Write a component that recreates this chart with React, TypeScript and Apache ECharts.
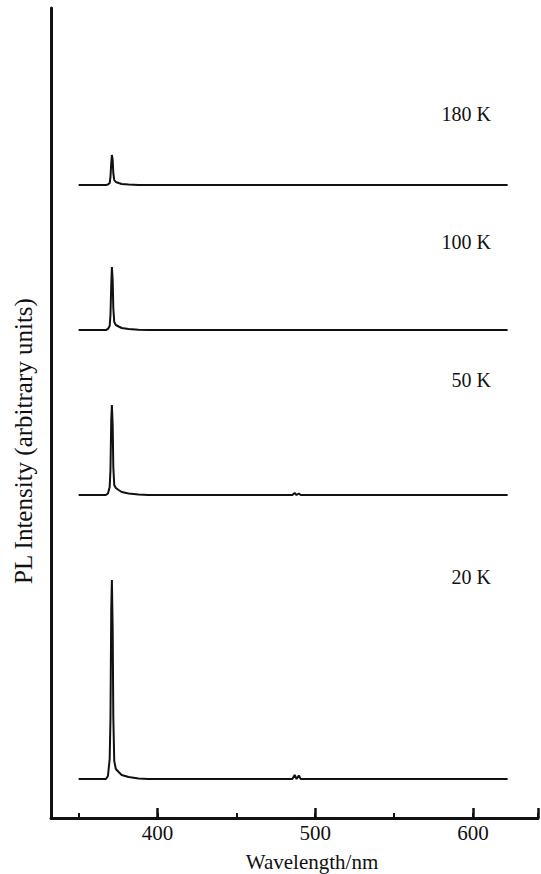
import React, { useEffect, useRef } from "react";
import * as echarts from "echarts";

// Wavelength sampling points (nm)
const wavelengths = [350, 360, 367.3, 368.6, 369.7, 370.2, 370.7, 371.1, 371.6, 372.0, 372.6, 373.6, 375.4, 377.3, 381.7, 388, 394, 450, 485.5, 487, 488.2, 489.6, 490.8, 550, 622];

// PL intensity (arbitrary units, above each curve's own baseline)
const pl20K = [0, 0, 0, 3, 20, 60, 170, 199, 150, 62, 18, 10, 7, 4, 2, 0.5, 0, 0, 0, 4, 0, 3.5, 0, 0, 0];
const pl50K = [0, 0, 0, 1.5, 8, 25, 75, 90, 70, 28, 10, 7, 5, 3, 1.5, 0.5, 0, 0, 0, 2, 0, 1.5, 0, 0, 0];
const pl100K = [0, 0, 0, 1, 4, 15, 45, 63, 50, 22, 8, 5, 3.5, 2, 1, 0.3, 0, 0, 0, 0, 0, 0, 0, 0, 0];
const pl180K = [0, 0, 0, 0.5, 2, 8, 22, 30, 25, 12, 5, 3, 2, 1, 0.5, 0, 0, 0, 0, 0, 0, 0, 0, 0, 0];

// vertical offsets of the stacked spectra
const temperatures = ["20 K", "50 K", "100 K", "180 K"];
const offsets = [39, 323, 488, 633];
const spectra = [pl20K, pl50K, pl100K, pl180K];

const majorTickLabels = [400, 500, 600];

const FONT = "'Liberation Serif', 'Times New Roman', serif";
const INK = "#111";

export default function App() {
  const ref = useRef<HTMLDivElement>(null);
  useEffect(() => {
    if (!ref.current) return;
    const chart = echarts.init(ref.current, undefined, { renderer: "svg" });
    const labelY = [577, 380, 242, 114];
    chart.setOption({
      animation: false,
      backgroundColor: "#fff",
      grid: { left: 51, right: -4, top: 8, bottom: 56 },
      xAxis: [
        {
          type: "value",
          position: "bottom",
          min: 332.5,
          max: 641.25,
          splitNumber: 6,
          axisLine: { show: true, lineStyle: { color: INK, width: 3 } },
          axisTick: { show: true, inside: true, length: 5, lineStyle: { color: INK, width: 2 } },
          splitLine: { show: false },
          axisLabel: {
            show: true,
            margin: 4,
            fontSize: 21,
            fontFamily: FONT,
            color: INK,
            formatter: (v: number) => (majorTickLabels.includes(Math.round(v)) && Math.abs(v - Math.round(v)) < 1e-6 ? String(Math.round(v)) : ""),
          },
        },
        {
          type: "value",
          position: "bottom",
          min: 332.5,
          max: 641.25,
          splitNumber: 3,
          axisLine: { show: false },
          axisTick: { show: true, inside: true, length: 10, lineStyle: { color: INK, width: 2.5 } },
          splitLine: { show: false },
          axisLabel: { show: false },
        },
      ],
      yAxis: {
        type: "value",
        min: 0,
        max: 810,
        axisLine: { show: true, lineStyle: { color: INK, width: 3 } },
        axisTick: { show: false },
        axisLabel: { show: false },
        splitLine: { show: false },
      },
      series: spectra.map((vals, k) => ({
        type: "line",
        name: temperatures[k],
        xAxisIndex: 0,
        showSymbol: false,
        symbol: "none",
        smooth: false,
        lineStyle: { color: INK, width: 2 },
        data: wavelengths.map((w, i) => [w, vals[i] + offsets[k]]),
      })),
      graphic: [
        ...temperatures.map((t, k) => ({
          type: "text",
          x: 491,
          y: labelY[k],
          style: {
            text: t,
            fontSize: 20,
            fontFamily: FONT,
            fill: INK,
            align: "right",
            verticalAlign: "middle",
          },
        })),
        {
          type: "text",
          x: 312,
          y: 862,
          style: {
            text: "Wavelength/nm",
            fontSize: 21,
            fontFamily: FONT,
            fill: INK,
            align: "center",
            verticalAlign: "middle",
          },
        },
        {
          type: "text",
          x: 23,
          y: 441,
          rotation: Math.PI / 2,
          style: {
            text: "PL Intensity (arbitrary units)",
            fontSize: 25,
            fontFamily: FONT,
            fill: INK,
            align: "center",
            verticalAlign: "middle",
          },
        },
      ],
    });
    return () => chart.dispose();
  }, []);
  return (
    <div
      ref={ref}
      style={{ position: "fixed", left: 0, top: 0, width: 541, height: 874, background: "#fff" }}
    />
  );
}
